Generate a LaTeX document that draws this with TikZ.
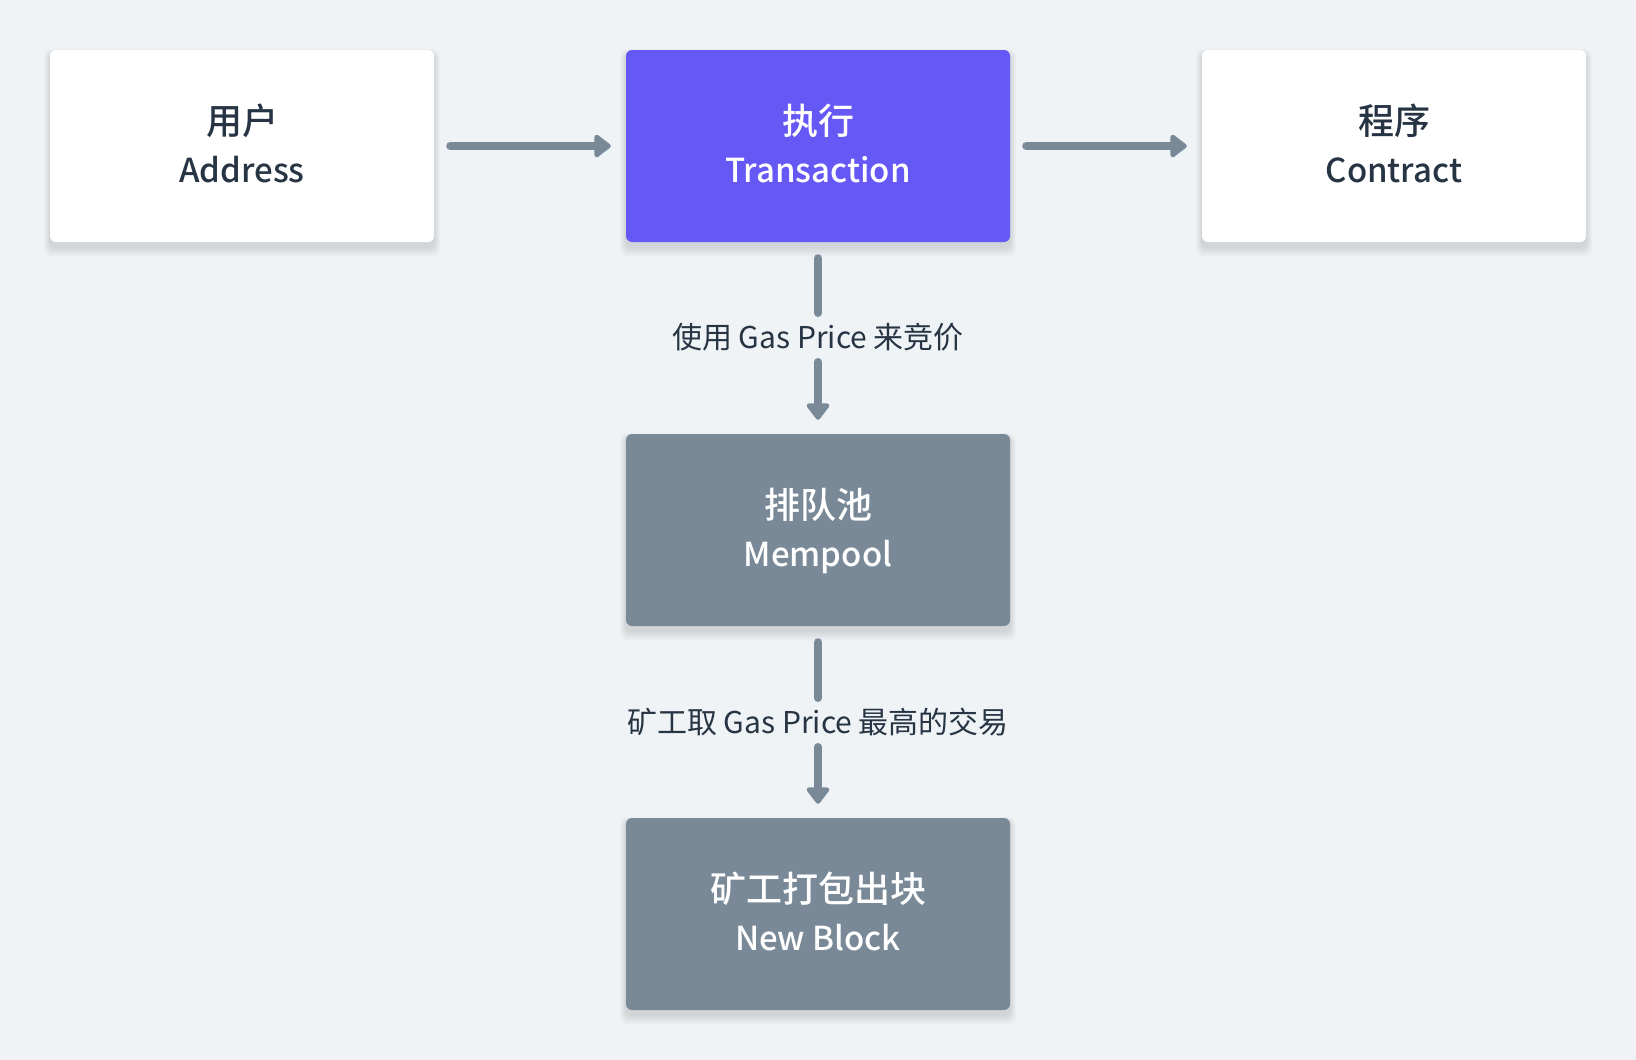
\documentclass[tikz,border=0pt]{standalone}
\usepackage{fontspec}
\setmainfont{Noto Sans CJK SC}
\newfontfamily\medfont{Noto Sans CJK SC}[UprightFont={* Medium}]
\usetikzlibrary{arrows.meta}
\pgfdeclarelayer{shadowlayer}
\pgfsetlayers{shadowlayer,main}
\definecolor{bgc}{HTML}{EFF3F6}
\definecolor{purp}{HTML}{6658F5}
\definecolor{slate}{HTML}{7A8997}
\definecolor{ink}{HTML}{273444}
\newcommand{\twoline}[2]{{\fontsize{36}{48}\selectfont\rule{0pt}{34pt}#1}\\[0pt]{\fontsize{33}{48}\selectfont #2\rule[-10pt]{0pt}{10pt}}}
\tikzset{
  box/.style={minimum width=384pt, minimum height=192pt, rounded corners=6pt,
    align=center, inner sep=0pt, font=\medfont\fontsize{36}{48}\selectfont},
  whitebox/.style={box, fill=white, text=ink},
  purpbox/.style={box, fill=purp, text=white},
  graybox/.style={box, fill=slate, text=white},
  conn/.style={draw=slate, line width=8pt, line cap=round,
    -{Triangle[width=26pt, length=18pt, round]}},
  seg/.style={draw=slate, line width=8pt, line cap=round},
  lab/.style={text=ink, font=\fontsize{30}{36}\selectfont, inner sep=0pt},
  shadowpiece/.style={fill=black, fill opacity=0.01, rounded corners=8pt}
}
\newcommand{\boxshadow}[1]{%
  \begin{pgfonlayer}{shadowlayer}
  \foreach \r in {1,2,...,10}{
    \path[shadowpiece] ([xshift=-0.6*\r pt, yshift={-5pt-\r pt}]#1.south west) rectangle ([xshift=0.6*\r pt, yshift={-4pt+0.5*\r pt}]#1.north east);
  }
  \end{pgfonlayer}}
\begin{document}
\begin{tikzpicture}[x=1pt,y=-1pt]
\begin{pgfonlayer}{shadowlayer}
\path[fill=bgc] (0,0) rectangle (1636,1060);
\end{pgfonlayer}
\useasboundingbox (0,0) rectangle (1636,1060);
\node[whitebox] (addr) at (242,146) {\twoline{用户}{Address}};
\node[purpbox] (tx) at (818,146) {\twoline{执行}{Transaction}};
\node[whitebox] (con) at (1394,146) {\twoline{程序}{Contract}};
\node[graybox] (mem) at (818,530) {\twoline{排队池}{Mempool}};
\node[graybox] (blk) at (818,914) {\twoline{矿工打包出块}{New Block}};
\boxshadow{addr}\boxshadow{tx}\boxshadow{con}\boxshadow{mem}\boxshadow{blk}
\node[lab] (l1) at (818,337) {使用 Gas Price 来竞价};
\node[lab] (l2) at (818,722) {矿工取 Gas Price 最高的交易};
\draw[conn] ([xshift=16pt]addr.east) -- ([xshift=-15pt]tx.west);
\draw[conn] ([xshift=16pt]tx.east) -- ([xshift=-15pt]con.west);
\draw[seg] ([yshift=-16pt]tx.south) -- ([yshift=24pt]l1.center);
\draw[conn] ([yshift=-25pt]l1.center) -- ([yshift=14pt]mem.north);
\draw[seg] ([yshift=-16pt]mem.south) -- ([yshift=24pt]l2.center);
\draw[conn] ([yshift=-25pt]l2.center) -- ([yshift=14pt]blk.north);
\end{tikzpicture}
\end{document}
